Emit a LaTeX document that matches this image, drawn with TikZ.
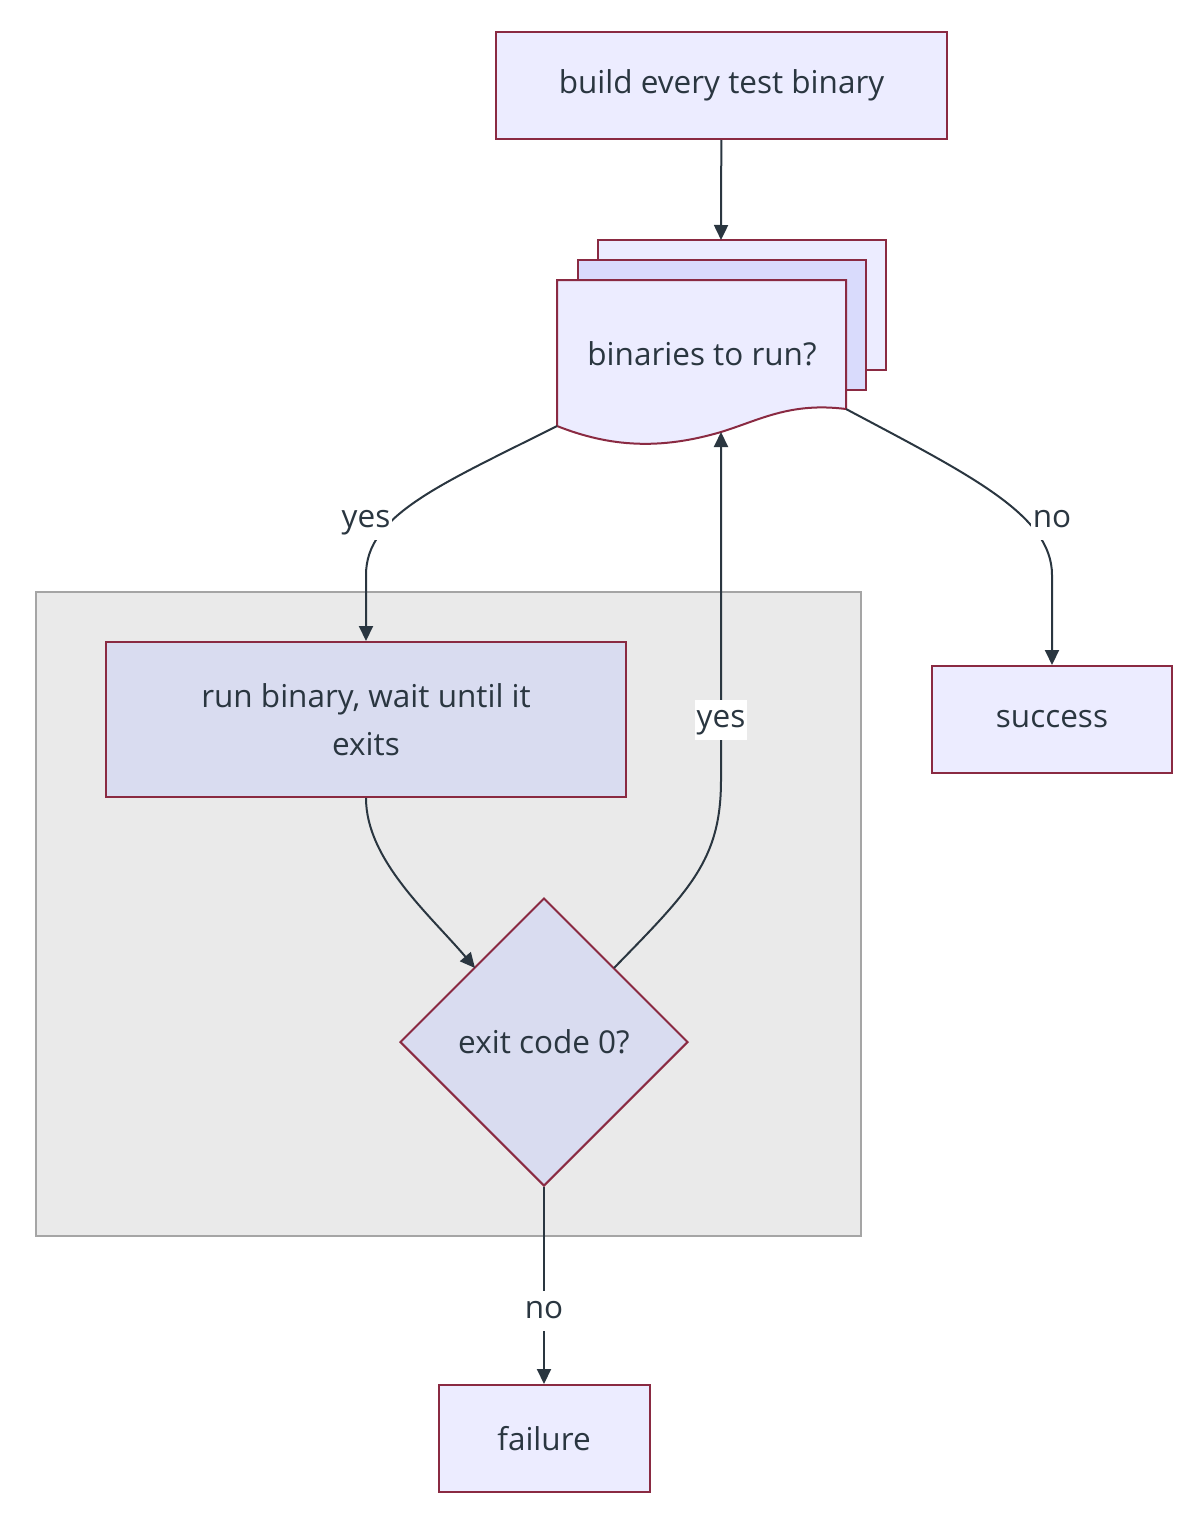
\documentclass[tikz,border=0pt]{standalone}
\usepackage{fontspec}
\setmainfont{Open Sans}
\usetikzlibrary{shapes.geometric,arrows.meta}
\definecolor{nodefill}{HTML}{ECECFF}
\definecolor{innerfill}{HTML}{D9DCF0}
\definecolor{stackfill}{HTML}{D9DBFC}
\definecolor{nodeline}{HTML}{8A2A42}
\definecolor{clusterfill}{HTML}{EAEAEA}
\definecolor{clusterline}{HTML}{A5A5A5}
\definecolor{ink}{HTML}{2A3640}
\tikzset{
    stepbox/.style = {draw=nodeline, fill=nodefill, line width=2pt, text=ink,
        minimum width=#1, minimum height=107pt, inner sep=0pt, align=center},
    stepbox/.default = 240pt,
    choice/.style = {draw=nodeline, fill=innerfill, line width=2pt, text=ink,
        shape=diamond, minimum size=288pt, inner sep=0pt},
    link/.style = {draw=ink, line width=2pt, -{Triangle[length=15pt,width=14pt]}},
    linklabel/.style = {fill=white, text=ink, inner xsep=2pt, text height=24pt, text depth=9pt}
}
\begin{document}
\begin{tikzpicture}[x=1pt, y=-1pt, font=\fontsize{31.5}{48}\selectfont]
    \useasboundingbox (0,0) rectangle (1202,1528);

    % loop body
    \draw[draw=clusterline, fill=clusterfill, line width=2pt] (36,592) rectangle (861,1236);

    \node[stepbox=451pt] (build) at (721.5,85.5) {build every test binary};

    % stacked documents
    \draw[draw=nodeline, fill=nodefill, line width=2pt] (598,240) rectangle (886,370);
    \draw[draw=nodeline, fill=stackfill, line width=2pt] (578,260) rectangle (866,390);
    \draw[draw=nodeline, fill=nodefill, line width=2pt] (557,280) -- (846,280) -- (846,409)
        .. controls (790,402) and (760,420) .. (721,432)
        .. controls (660,450) and (610,447) .. (557,426) -- cycle;
    \node[text=ink] (bins) at (702,354) {binaries to run?};
    \coordinate (binsT) at (721,240);
    \coordinate (binsL) at (557,426);
    \coordinate (binsR) at (846,409);
    \coordinate (binsB) at (721,432);

    \node[stepbox=520pt, fill=innerfill, minimum height=155pt] (run) at (366,719.5)
        {run binary, wait until it\\exits};
    \node[choice] (exit) at (544,1042) {exit code 0?};
    \node[stepbox] (success) at (1052,719.5) {success};
    \node[stepbox=211pt] (failure) at (544,1438.5) {failure};

    \coordinate (exitL) at (475,968);
    \coordinate (exitR) at (614,968);

    \draw[link] (build) -- (binsT);
    \draw[link] (binsL) .. controls (440,485) and (366,515) .. (366,575) -- (run.north);
    \draw[link] (binsR) .. controls (970,475) and (1052,515) .. (1052,575) -- (success.north);
    \draw[link] (run.south) .. controls (366,860) and (430,915) .. (exitL);
    \draw[link] (exitR) .. controls (690,890) and (721,860) .. (721,780) -- (binsB);
    \draw[link] (exit.south) -- (failure.north);

    \node[linklabel] (yesA) at (366,520) {yes};
    \node[linklabel] (noA) at (1052,520) {no};
    \node[linklabel] (yesB) at (721,720) {yes};
    \node[linklabel] (noB) at (544,1311) {no};
\end{tikzpicture}
\end{document}
